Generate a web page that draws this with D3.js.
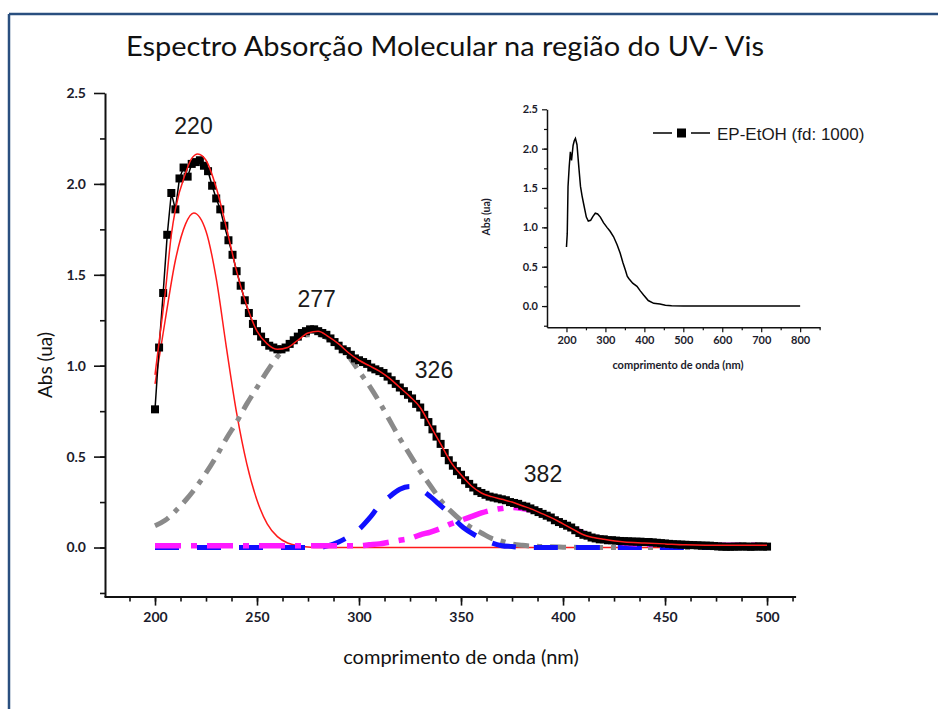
<!DOCTYPE html>
<html>
<head>
<meta charset="utf-8">
<script src="https://cdn.jsdelivr.net/npm/d3@7/dist/d3.min.js"></script>
<style>
  html, body { margin: 0; padding: 0; background: #fff; }
  svg { display: block; }
</style>
</head>
<body>
<svg id="chart" width="938" height="709"></svg>
<script>
// Measured spectrum (EP-EtOH, fd 1000), 2 nm step
const wavelength = d3.range(200, 501, 2);
const absMeasured = [
  0.76, 1.10, 1.40, 1.72, 1.95, 1.86, 2.03, 2.09, 2.04, 2.11,
  2.12, 2.13, 2.10, 2.07, 1.99, 1.92, 1.86, 1.77, 1.69, 1.61,
  1.52, 1.44, 1.36, 1.29, 1.23, 1.19, 1.16, 1.13, 1.11, 1.10,
  1.09, 1.09, 1.10, 1.12, 1.14, 1.16, 1.18, 1.19, 1.20, 1.20,
  1.19, 1.18, 1.17, 1.15, 1.13, 1.11, 1.09, 1.08, 1.06, 1.04,
  1.03, 1.02, 1.01, 0.99, 0.98, 0.97, 0.96, 0.94, 0.92, 0.90,
  0.88, 0.86, 0.84, 0.82, 0.79, 0.77, 0.73, 0.69, 0.65, 0.61,
  0.57, 0.52, 0.48, 0.45, 0.42, 0.40, 0.37, 0.35, 0.33, 0.31,
  0.30, 0.29, 0.28, 0.275, 0.27, 0.265, 0.26, 0.25, 0.245, 0.24,
  0.23, 0.225, 0.215, 0.205, 0.195, 0.185, 0.175, 0.165, 0.15, 0.14,
  0.13, 0.12, 0.11, 0.095, 0.08, 0.07, 0.065, 0.055, 0.05, 0.045,
  0.045, 0.04, 0.04, 0.038, 0.036, 0.035, 0.034, 0.033, 0.032, 0.032,
  0.03, 0.03, 0.028, 0.026, 0.024, 0.022, 0.02, 0.018, 0.017, 0.016,
  0.015, 0.014, 0.013, 0.012, 0.011, 0.01, 0.01, 0.008, 0.006, 0.005,
  0.004, 0.004, 0.005, 0.005, 0.006, 0.005, 0.004, 0.005, 0.006, 0.005,
  0.005
];

// Gaussian deconvolution: cumulative fit and the four bands
const fitWl  = [200, 202, 205, 208, 210, 215, 218, 221, 225, 230, 235, 240, 245, 250, 255, 260, 265, 270, 275, 280, 285, 290, 295, 300, 305, 310, 315, 320, 325, 330, 335, 340, 345, 350, 355, 360, 365, 370, 375, 380, 385, 390, 395, 400, 405, 410, 415, 420, 430, 440, 450, 460, 480, 500];
const fitAbs = [0.95, 1.13, 1.40, 1.72, 1.86, 2.06, 2.14, 2.165, 2.13, 1.98, 1.76, 1.52, 1.33, 1.19, 1.12, 1.09, 1.10, 1.14, 1.18, 1.19, 1.16, 1.12, 1.07, 1.03, 1.00, 0.97, 0.93, 0.88, 0.83, 0.77, 0.67, 0.57, 0.47, 0.40, 0.34, 0.30, 0.28, 0.265, 0.25, 0.23, 0.21, 0.185, 0.16, 0.13, 0.10, 0.07, 0.055, 0.045, 0.03, 0.025, 0.02, 0.015, 0.012, 0.012];

const band220Wl  = [200, 205, 210, 215, 219, 225, 230, 235, 240, 245, 250, 255, 260, 265, 270, 275, 280, 350, 420, 500];
const band220Abs = [0.90, 1.25, 1.58, 1.78, 1.84, 1.74, 1.48, 1.10, 0.74, 0.46, 0.26, 0.13, 0.06, 0.025, 0.01, 0.003, 0, 0, 0, 0];

const band277Wl  = [200, 205, 210, 215, 220, 225, 230, 235, 240, 245, 250, 255, 260, 265, 270, 275, 280, 285, 290, 295, 300, 305, 310, 315, 320, 325, 330, 335, 340, 345, 350, 355, 360, 365, 370, 375, 380, 390, 400, 420, 460, 500];
const band277Abs = [0.12, 0.15, 0.20, 0.26, 0.33, 0.41, 0.50, 0.60, 0.69, 0.79, 0.88, 0.97, 1.05, 1.11, 1.15, 1.17, 1.17, 1.15, 1.11, 1.05, 0.97, 0.89, 0.80, 0.70, 0.60, 0.51, 0.42, 0.34, 0.26, 0.20, 0.15, 0.11, 0.08, 0.05, 0.035, 0.02, 0.012, 0.005, 0.002, 0, 0, 0];

const band326Wl  = [200, 240, 280, 285, 290, 295, 300, 305, 310, 315, 320, 325, 330, 335, 340, 345, 350, 355, 360, 365, 370, 375, 380, 420, 460, 500];
const band326Abs = [0, 0, 0, 0.01, 0.03, 0.06, 0.10, 0.16, 0.23, 0.28, 0.32, 0.335, 0.32, 0.28, 0.23, 0.18, 0.12, 0.08, 0.05, 0.025, 0.01, 0.005, 0, 0, 0, 0];

const band382Wl  = [200, 250, 300, 305, 310, 315, 320, 325, 330, 335, 340, 345, 350, 355, 360, 365, 370, 375, 380, 385, 390, 395, 400, 405, 410, 415, 420, 425, 430, 440, 450, 475, 500];
const band382Abs = [0.01, 0.01, 0.01, 0.015, 0.02, 0.03, 0.04, 0.05, 0.07, 0.085, 0.105, 0.13, 0.15, 0.17, 0.19, 0.205, 0.215, 0.22, 0.215, 0.205, 0.185, 0.16, 0.13, 0.105, 0.08, 0.06, 0.045, 0.035, 0.025, 0.018, 0.015, 0.012, 0.012];

// Peak annotations
const peakLabels = ["220", "277", "326", "382"];

// Full-range spectrum shown in the inset
const insetWl  = [200, 202, 204, 207, 210, 213, 217, 220, 223, 227, 232, 236, 240, 244, 251, 256, 262, 268, 274, 280, 287, 295, 304, 312, 321, 330, 338, 345, 351, 356, 360, 370, 381, 390, 398, 410, 424, 440, 454, 470, 500, 600, 650, 700, 800];
const insetAbs = [0.75, 0.92, 1.52, 1.77, 1.96, 1.85, 2.04, 2.10, 2.13, 2.05, 1.75, 1.52, 1.40, 1.30, 1.13, 1.08, 1.09, 1.14, 1.18, 1.17, 1.13, 1.06, 1.00, 0.95, 0.88, 0.78, 0.67, 0.55, 0.46, 0.38, 0.35, 0.29, 0.25, 0.19, 0.14, 0.07, 0.035, 0.025, 0.01, 0.005, 0, 0, 0, 0, 0];

// Tick values
const xTicks = [200, 250, 300, 350, 400, 450, 500];
const yTicks = [0.0, 0.5, 1.0, 1.5, 2.0, 2.5];
const insetXTicks = [200, 300, 400, 500, 600, 700, 800];
const insetYTicks = [0.0, 0.5, 1.0, 1.5, 2.0, 2.5];

const svg = d3.select("#chart");
const tickFont = "Lato, 'Open Sans', sans-serif";
const textFont = "'Liberation Sans', Arial, sans-serif";

// Frame
svg.append("line").attr("x1", 9).attr("y1", 14).attr("x2", 938).attr("y2", 14)
  .attr("stroke", "#2a4f7f").attr("stroke-width", 2.5);
svg.append("line").attr("x1", 9).attr("y1", 14).attr("x2", 9).attr("y2", 709)
  .attr("stroke", "#2a4f7f").attr("stroke-width", 2.5);

// Title
svg.append("text")
  .attr("x", 445).attr("y", 56)
  .attr("text-anchor", "middle")
  .attr("font-family", tickFont)
  .attr("font-size", 27)
  .attr("fill", "#111")
  .attr("textLength", 638).attr("lengthAdjust", "spacingAndGlyphs")
  .text("Espectro Absorção Molecular na região do UV- Vis");

// ---------- Main plot ----------
const x = d3.scaleLinear().domain([175, 514]).range([104, 795.6]);
const y = d3.scaleLinear().domain([-0.27, 2.5]).range([596.6, 93]);

function styleAxis(g, fontSize) {
  g.selectAll("path.domain").attr("stroke", "#111").attr("stroke-width", 2);
  g.selectAll(".tick line").attr("stroke", "#111").attr("stroke-width", 1.6);
  g.selectAll(".tick text")
    .attr("font-family", tickFont).attr("font-weight", "bold")
    .attr("font-size", fontSize).attr("fill", "#1c1c2c");
}

// minor ticks
svg.append("g").attr("transform", "translate(0,596.6)")
  .call(d3.axisBottom(x).tickValues(d3.range(187.5, 514, 12.5)).tickSize(5).tickFormat(""))
  .call(g => { g.select("path.domain").remove(); g.selectAll(".tick line").attr("stroke", "#111").attr("stroke-width", 1.6); });
svg.append("g").attr("transform", "translate(105,0)")
  .call(d3.axisLeft(y).tickValues(d3.range(-0.25, 2.5, 0.25)).tickSize(5).tickFormat(""))
  .call(g => { g.select("path.domain").remove(); g.selectAll(".tick line").attr("stroke", "#111").attr("stroke-width", 1.6); });

const gx = svg.append("g").attr("transform", "translate(0,596.6)")
  .call(d3.axisBottom(x).tickValues(xTicks).tickSize(9).tickSizeOuter(0).tickPadding(6).tickFormat(d3.format("d")));
styleAxis(gx, 14);
const gy = svg.append("g").attr("transform", "translate(105,0)")
  .call(d3.axisLeft(y).tickValues(yTicks).tickSize(11).tickSizeOuter(0).tickPadding(8).tickFormat(d3.format(".1f")));
styleAxis(gy, 14);

// axis titles
svg.append("text")
  .attr("x", 461).attr("y", 664)
  .attr("text-anchor", "middle")
  .attr("font-family", tickFont).attr("font-size", 20).attr("fill", "#111")
  .text("comprimento de onda (nm)");
svg.append("text")
  .attr("transform", "translate(52,365) rotate(-90)")
  .attr("text-anchor", "middle")
  .attr("font-family", tickFont).attr("font-size", 19).attr("fill", "#111")
  .text("Abs (ua)");

const line = d3.line().x(d => x(d[0])).y(d => y(d[1])).curve(d3.curveMonotoneX);
const zip = (a, b) => a.map((v, i) => [v, b[i]]);

// Bands
svg.append("path").datum(zip(band220Wl, band220Abs))
  .attr("d", line).attr("fill", "none").attr("stroke", "#ff1a1a").attr("stroke-width", 1.5);
svg.append("path").datum(zip(band277Wl, band277Abs))
  .attr("d", line).attr("fill", "none").attr("stroke", "#8a8a8a").attr("stroke-width", 5)
  .attr("stroke-dasharray", "16,8,5,8");
svg.append("path").datum(zip(band326Wl, band326Abs))
  .attr("d", line).attr("fill", "none").attr("stroke", "#1010ff").attr("stroke-width", 5)
  .attr("stroke-dasharray", "24,18");
svg.append("path").datum(zip(band382Wl, band382Abs))
  .attr("d", line).attr("fill", "none").attr("stroke", "#ff1aff").attr("stroke-width", 5.5)
  .attr("stroke-dasharray", "26,10,6,10");

// Measured data: line + square markers
const measured = zip(wavelength, absMeasured);
svg.append("path").datum(measured)
  .attr("d", d3.line().x(d => x(d[0])).y(d => y(d[1])))
  .attr("fill", "none").attr("stroke", "#000").attr("stroke-width", 1.5);
svg.append("g").selectAll("rect").data(measured).join("rect")
  .attr("x", d => x(d[0]) - 4).attr("y", d => y(d[1]) - 4)
  .attr("width", 8).attr("height", 8).attr("fill", "#000");

// Cumulative fit on top
svg.append("path").datum(zip(fitWl, fitAbs))
  .attr("d", line).attr("fill", "none").attr("stroke", "#ff1a1a").attr("stroke-width", 1.5);

// Peak labels
const peakPos = [[193.5, 134], [316.7, 307], [434, 378], [543, 482]];
svg.append("g").selectAll("text").data(peakLabels).join("text")
  .attr("x", (d, i) => peakPos[i][0]).attr("y", (d, i) => peakPos[i][1])
  .attr("text-anchor", "middle")
  .attr("font-family", textFont).attr("font-size", 23).attr("fill", "#1a1a1a")
  .text(d => d);

// ---------- Inset ----------
const ix = d3.scaleLinear().domain([150, 851]).range([547, 820]);
const iy = d3.scaleLinear().domain([-0.27, 2.5]).range([327.3, 109.3]);

svg.append("g").attr("transform", "translate(0,327.3)")
  .call(d3.axisBottom(ix).tickValues(d3.range(250, 851, 100)).tickSize(3).tickFormat(""))
  .call(g => { g.select("path.domain").remove(); g.selectAll(".tick line").attr("stroke", "#111").attr("stroke-width", 1.2); });
svg.append("g").attr("transform", "translate(547,0)")
  .call(d3.axisLeft(iy).tickValues(d3.range(-0.25, 2.5, 0.25)).tickSize(3).tickFormat(""))
  .call(g => { g.select("path.domain").remove(); g.selectAll(".tick line").attr("stroke", "#111").attr("stroke-width", 1.2); });

const igx = svg.append("g").attr("transform", "translate(0,327.3)")
  .call(d3.axisBottom(ix).tickValues(insetXTicks).tickSize(5).tickSizeOuter(0).tickPadding(4).tickFormat(d3.format("d")));
styleAxis(igx, 11);
igx.selectAll("path.domain").attr("stroke-width", 1.5);
igx.selectAll(".tick line").attr("stroke-width", 1.2);
const igy = svg.append("g").attr("transform", "translate(547,0)")
  .call(d3.axisLeft(iy).tickValues(insetYTicks).tickSize(5).tickSizeOuter(0).tickPadding(4).tickFormat(d3.format(".1f")));
styleAxis(igy, 11);
igy.selectAll("path.domain").attr("stroke-width", 1.5);
igy.selectAll(".tick line").attr("stroke-width", 1.2);

svg.append("text")
  .attr("x", 678).attr("y", 369)
  .attr("text-anchor", "middle")
  .attr("font-family", tickFont).attr("font-weight", "bold").attr("font-size", 11).attr("fill", "#1c1c2c")
  .text("comprimento de onda (nm)");
svg.append("text")
  .attr("transform", "translate(490,217) rotate(-90)")
  .attr("text-anchor", "middle")
  .attr("font-family", tickFont).attr("font-weight", "bold").attr("font-size", 10.5).attr("fill", "#1c1c2c")
  .text("Abs (ua)");

svg.append("path").datum(zip(insetWl, insetAbs))
  .attr("d", d3.line().x(d => ix(d[0])).y(d => iy(d[1])))
  .attr("fill", "none").attr("stroke", "#000").attr("stroke-width", 1.5);

// Legend
const lg = svg.append("g").attr("transform", "translate(653,133)");
lg.append("line").attr("x1", 0).attr("x2", 57).attr("y1", 0).attr("y2", 0)
  .attr("stroke", "#000").attr("stroke-width", 1.5).attr("stroke-dasharray", "19,19,19");
lg.append("rect").attr("x", 24).attr("y", -4.5).attr("width", 9).attr("height", 9).attr("fill", "#000");
lg.append("text").attr("x", 64).attr("y", 6.5)
  .attr("font-family", textFont).attr("font-size", 17).attr("fill", "#1a1a1a")
  .text("EP-EtOH (fd: 1000)");
</script>
</body>
</html>
